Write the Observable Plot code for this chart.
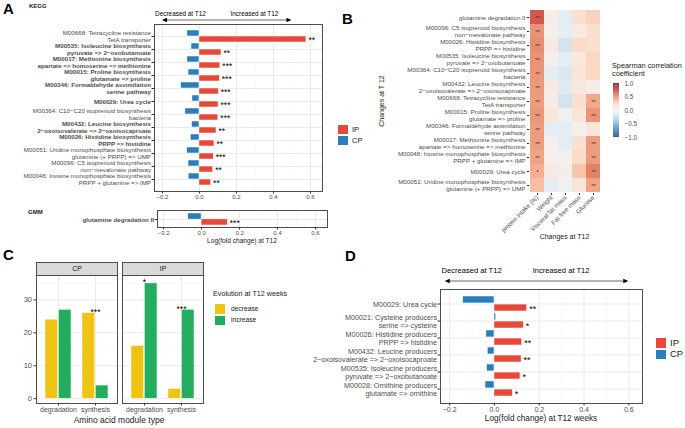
<!DOCTYPE html>
<html><head><meta charset="utf-8">
<script src="https://cdn.jsdelivr.net/npm/d3@7"></script>
<script src="https://cdn.jsdelivr.net/npm/@observablehq/plot@0.6"></script>
<style>
body{margin:0;background:#fff;}
#fig{position:relative;width:685px;height:428px;overflow:hidden;font-family:"Liberation Sans",Arial,sans-serif;background:#fff}
</style></head><body><div id="fig"></div>
<script>
// ---------------- DATA ----------------
const groups = ["IP", "CP"];
const groupColors = ["#E8483A", "#2C7DBB"];

// Panel A (KEGG)
const keggLabels = [
  "M00668: Tetracycline resistance\nTetA transporter",
  "M00535: Isoleucine biosynthesis\npyruvate => 2−oxobutanoate",
  "M00017: Methionine biosynthesis\napartate => homoserine => methionine",
  "M00015: Proline biosynthesis\nglutamate => proline",
  "M00346: Formaldehyde assimilation\nserine pathway",
  "M00029: Urea cycle",
  "M00364: C10−C20 isoprenoid biosynthesis\nbacteria",
  "M00432: Leucine biosynthesis\n2−oxoisovalerate => 2−oxoisocaproate",
  "M00026: Histidine biosynthesis\nPRPP => histidine",
  "M00051: Uridine monophosphate biosynthesis\nglutamine (+ PRPP) => UMP",
  "M00096: C5 isoprenoid biosynthesis\nnon−mevalonate pathway",
  "M00048: Inosine monophosphate biosynthesis\nPRPP + glutamine => IMP"
];
const keggBold = [false, true, true, true, true, true, false, true, true, false, false, false];
const keggIP = [0.578, 0.119, 0.113, 0.110, 0.104, 0.103, 0.102, 0.092, 0.081, 0.077, 0.074, 0.063];
const keggCP = [-0.065, -0.043, -0.065, -0.059, -0.099, -0.038, -0.076, -0.040, -0.047, -0.067, -0.059, -0.058];
const keggStars = ["**", "**", "***", "***", "***", "***", "***", "**", "**", "***", "**", "**"];

// Panel A (GMM)
const gmmLabels = ["glutamine degradation II"];
const gmmBold = [true];
const gmmIP = [0.138];
const gmmCP = [-0.070];
const gmmStars = ["***"];

// Panel B (heatmap)
const hmRows = [
  "glutamine degradation II",
  "M00096: C5 isoprenoid biosynthesis\nnon−mevalonate pathway",
  "M00026: Histidine biosynthesis\nPRPP => histidine",
  "M00535: Isoleucine biosynthesis\npyruvate => 2−oxobutanoate",
  "M00364: C10−C20 isoprenoid biosynthesis\nbacteria",
  "M00432: Leucine biosynthesis\n2−oxoisovalerate => 2−oxoisocaproate",
  "M00668: Tetracycline resistance\nTetA transporter",
  "M00015: Proline biosynthesis\nglutamate => proline",
  "M00346: Formaldehyde assimilation\nserine pathway",
  "M00017: Methionine biosynthesis\napartate => homoserine => methionine",
  "M00048: Inosine monophosphate biosynthesis\nPRPP + glutamine => IMP",
  "M00029: Urea cycle",
  "M00051: Uridine monophosphate biosynthesis\nglutamine (+ PRPP) => UMP"
];
const hmCols = ["protein intake (%)", "Weight", "Visceral fat mass", "Fat free mass", "Glucose"];
const rProtein  = [0.62, 0.45, 0.47, 0.45, 0.44, 0.43, 0.42, 0.44, 0.42, 0.42, 0.40, 0.36, 0.30];
const rWeight   = [0.05, 0.01, 0.08, 0.02, -0.10, 0.08, 0.06, 0.12, -0.10, 0.02, 0.03, 0.08, -0.10];
const rVisceral = [-0.10, -0.08, -0.18, -0.08, -0.15, -0.12, -0.18, -0.02, -0.10, -0.10, 0.00, 0.04, -0.02];
const rFatFree  = [0.15, 0.08, 0.18, 0.10, 0.12, 0.10, 0.15, 0.12, 0.03, 0.15, 0.18, 0.28, 0.12];
const rGlucose  = [0.22, 0.15, 0.15, 0.20, 0.20, 0.06, 0.38, 0.45, 0.12, 0.42, 0.42, 0.50, 0.40];
const sProtein  = ["**", "**", "**", "**", "**", "**", "**", "**", "**", "**", "**", "*", ""];
const sWeight   = ["", "", "", "", "", "", "", "", "", "", "", "", ""];
const sVisceral = ["", "", "", "", "", "", "", "", "", "", "", "", ""];
const sFatFree  = ["", "", "", "", "", "", "", "", "", "", "", "", ""];
const sGlucose  = ["", "", "", "", "", "", "**", "**", "", "**", "**", "**", "**"];
const cbTicks = [-1, -0.5, 0, 0.5, 1];

// Panel C
const cFacets = ["CP", "IP"];
const cTypes = ["degradation", "synthesis"];
const evolutions = ["decrease", "increase"];
const evoColors = ["#EEC311", "#24AD5F"];
const cpDecrease = [24, 26];
const cpIncrease = [27, 4];
const ipDecrease = [16, 3];
const ipIncrease = [35, 27];
const cpStars = ["", "***"];
const ipStars = ["*", "***"];

// Panel D
const dLabels = [
  "M00029: Urea cycle",
  "M00021: Cysteine producers\nserine => cysteine",
  "M00026: Histidine producers\nPRPP => histidine",
  "M00432: Leucine producers\n2−oxoisovalerate => 2−oxoisocaproate",
  "M00535: Isoleucine producers\npyruvate => 2−oxobutanoate",
  "M00028: Ornithine producers\nglutamate => ornithine"
];
const dBold = [false, false, false, false, false, false];
const dIP = [0.146, 0.131, 0.124, 0.121, 0.116, 0.082];
const dCP = [-0.140, 0.008, -0.036, -0.030, -0.033, -0.040];
const dStars = ["**", "*", "**", "**", "*", "*"];

const fcTicks = [-0.2, 0, 0.2, 0.4, 0.6];
const fcMinor = [-0.1, 0.1, 0.3, 0.5];

// ---------------- HELPERS ----------------
const FONT = "'Liberation Sans', Arial, sans-serif";
const fig = document.getElementById("fig");
function place(node, left, top) {
  node.style.position = "absolute";
  node.style.left = left + "px";
  node.style.top = top + "px";
  fig.appendChild(node);
  return node;
}
function txt(s, x, y, o = {}) {
  const d = document.createElement("div");
  d.textContent = s;
  const tx = o.tx ?? 0;
  d.style.cssText = `position:absolute;left:${x}px;top:${y}px;white-space:pre;line-height:${o.lh || 1.1};` +
    `font-size:${o.size || 7}px;font-weight:${o.weight || "normal"};color:${o.color || "#000"};` +
    `text-align:${o.align || "left"};transform:translate(${tx}%,-50%)${o.rotate ? ` rotate(${o.rotate}deg)` : ""};`;
  fig.appendChild(d);
  return d;
}
function swatch(x, y, w, h, color) {
  const d = document.createElement("div");
  d.style.cssText = `position:absolute;left:${x}px;top:${y}px;width:${w}px;height:${h}px;background:${color};box-sizing:border-box;border:0.5px solid #fff;`;
  fig.appendChild(d);
}

function divBars(o) {
  const {labels, bold, ip, cp, stars, width, height, mt, mb, ml, mr, po, domain, fontSize, tickFont, starSize, lh} = o;
  const pi = 0.1;
  const step = (height - mt - mb) / (labels.length - pi + 2 * po);
  const half = step * (1 - pi) / 2;
  const cpRows = labels.map((l, i) => ({label: l, group: "CP", v: cp[i]}));
  const ipRows = labels.map((l, i) => ({label: l, group: "IP", v: ip[i]}));
  const starRows = labels.map((l, i) => ({label: l, v: ip[i], s: stars[i]}));
  const boldL = labels.filter((l, i) => bold[i]);
  const normL = labels.filter((l, i) => !bold[i]);
  const marks = [
    Plot.gridX({ticks: fcMinor, stroke: "#f3f3f3", strokeOpacity: 1, strokeWidth: 0.6}),
    Plot.gridX({ticks: fcTicks, stroke: "#ebebeb", strokeOpacity: 1, strokeWidth: 1}),
    Plot.gridY({ticks: labels, stroke: "#ebebeb", strokeOpacity: 1, strokeWidth: 1}),
    Plot.barX(cpRows, {x: "v", y: "label", fill: "group", insetBottom: half, stroke: "white", strokeWidth: 0.5}),
    Plot.barX(ipRows, {x: "v", y: "label", fill: "group", insetTop: half, stroke: "white", strokeWidth: 0.5}),
    Plot.text(starRows, {x: "v", y: "label", text: "s", dx: 2, dy: half / 2 + 1, textAnchor: "start", fontSize: starSize, fill: "#000"}),
    Plot.frame({stroke: "#4d4d4d", strokeWidth: 1}),
    Plot.axisX({ticks: fcTicks, tickFormat: d3.format(".1f"), tickSize: 2.5, tickPadding: 1, fontSize: tickFont, label: null, stroke: "#333", fill: "#4d4d4d"})
  ];
  if (boldL.length) marks.push(Plot.axisY({ticks: boldL, fontWeight: "bold", tickSize: 2.5, tickPadding: 1, fontSize, lineHeight: lh, label: null, stroke: "#333", fill: "#4d4d4d"}));
  if (normL.length) marks.push(Plot.axisY({ticks: normL, tickSize: 2.5, tickPadding: 1, fontSize, lineHeight: lh, label: null, stroke: "#333", fill: "#4d4d4d"}));
  return Plot.plot({
    width, height, marginTop: mt, marginBottom: mb, marginLeft: ml, marginRight: mr,
    style: {fontFamily: FONT, fontSize: fontSize + "px", background: "transparent", overflow: "visible"},
    x: {domain, label: null},
    y: {domain: labels, paddingInner: pi, paddingOuter: po, label: null},
    color: {domain: groups, range: groupColors},
    marks
  });
}

// ---------------- PANEL A ----------------
const plotA = divBars({labels: keggLabels, bold: keggBold, ip: keggIP, cp: keggCP, stars: keggStars,
  width: 330, height: 205, mt: 24, mb: 14, ml: 154, mr: 8, po: 0.3, domain: [-0.243, 0.665],
  fontSize: 6.2, tickFont: 6, starSize: 8.5, lh: 1.02});
place(plotA, 0, 0);

const plotG = divBars({labels: gmmLabels, bold: gmmBold, ip: gmmIP, cp: gmmCP, stars: gmmStars,
  width: 335, height: 35, mt: 5, mb: 13, ml: 157, mr: 8, po: 0.2, domain: [-0.232, 0.663],
  fontSize: 6.2, tickFont: 6, starSize: 8.5, lh: 1.02});
place(plotG, 0, 205);

// ---------------- PANEL B ----------------
const hmVals = [rProtein, rWeight, rVisceral, rFatFree, rGlucose];
const hmStars = [sProtein, sWeight, sVisceral, sFatFree, sGlucose];
const hmCells = [];
hmRows.forEach((r, i) => hmCols.forEach((c, j) => hmCells.push({row: r, col: c, v: hmVals[j][i], s: hmStars[j][i]})));
const colorB = {type: "linear", scheme: "rdbu", domain: [-1, 1], reverse: true};
const plotB = Plot.plot({
  width: 270, height: 245, marginTop: 9, marginBottom: 52, marginLeft: 189, marginRight: 10,
  style: {fontFamily: FONT, fontSize: "6.2px", background: "transparent", overflow: "visible"},
  x: {domain: hmCols, padding: 0, label: null},
  y: {domain: hmRows, padding: 0, label: null},
  color: colorB,
  marks: [
    Plot.cell(hmCells, {x: "col", y: "row", fill: "v", inset: 0}),
    Plot.text(hmCells, {x: "col", y: "row", text: "s", fontSize: 5.5, fill: "#333", dy: 1}),
    Plot.axisX({tickRotate: -45, tickSize: 2, tickPadding: 1, fontSize: 6.3, label: null, stroke: "#333", fill: "#4d4d4d"}),
    Plot.axisY({tickSize: 2, tickPadding: 2, fontSize: 6.2, lineHeight: 1.02, label: null, stroke: "#333", fill: "#4d4d4d"})
  ]
});
place(plotB, 340, 0);

const cbSteps = d3.range(-1, 1, 0.02);
const plotCB = Plot.plot({
  width: 40, height: 62, marginTop: 4, marginBottom: 4, marginLeft: 3, marginRight: 31,
  style: {fontFamily: FONT, fontSize: "6.3px", background: "transparent", overflow: "visible"},
  y: {domain: [-1, 1], label: null},
  color: colorB,
  marks: [
    Plot.rect(cbSteps, {y1: d => d, y2: d => d + 0.021, fill: d => d + 0.01}),
    Plot.axisY({anchor: "right", ticks: cbTicks, tickFormat: d3.format(".1f"), tickSize: 0, tickPadding: 5, fontSize: 6.3, label: null, fill: "#4d4d4d"})
  ]
});
place(plotCB, 610, 79);

// ---------------- PANEL C ----------------
const cW = 210, cML = 35, cMR = 7;
const fpi = 0.06, xpi = 0.3, xpo = 0.22;
const facetW = (cW - cML - cMR) / (cFacets.length - fpi) * (1 - fpi);
const cHalf = facetW / (cTypes.length - xpi + 2 * xpo) * (1 - xpi) / 2;
const cVals = {CP: [cpDecrease, cpIncrease], IP: [ipDecrease, ipIncrease]};
const cStars = {CP: cpStars, IP: ipStars};
const cRows = [], cStarRows = [];
cFacets.forEach(f => cTypes.forEach((t, i) => {
  evolutions.forEach((e, k) => cRows.push({facet: f, type: t, evo: e, n: cVals[f][k][i]}));
  cStarRows.push({facet: f, type: t, n: Math.max(cVals[f][0][i], cVals[f][1][i]), s: cStars[f][i]});
}));
const fxOpt = {domain: cFacets, paddingInner: fpi, paddingOuter: 0, axis: null};
const plotStrip = Plot.plot({
  width: cW, height: 13, marginTop: 0, marginBottom: 0, marginLeft: cML, marginRight: cMR,
  style: {fontFamily: FONT, fontSize: "7px", background: "transparent", overflow: "visible"},
  fx: fxOpt,
  marks: [
    Plot.frame({fill: "#d9d9d9", stroke: "#4d4d4d", strokeWidth: 1}),
    Plot.text(cFacets, {fx: d => d, text: d => d, frameAnchor: "middle", fontSize: 7, fill: "#1a1a1a"})
  ]
});
place(plotStrip, 0, 262);

const plotC = Plot.plot({
  width: cW, height: 158, marginTop: 5, marginBottom: 25, marginLeft: cML, marginRight: cMR,
  style: {fontFamily: FONT, fontSize: "7px", background: "transparent", overflow: "visible"},
  fx: fxOpt,
  x: {domain: cTypes, paddingInner: xpi, paddingOuter: xpo, label: null},
  y: {domain: [-1.45, 37.4], label: null},
  color: {domain: evolutions, range: evoColors},
  marks: [
    Plot.gridY({ticks: [5, 15, 25, 35], stroke: "#f3f3f3", strokeOpacity: 1, strokeWidth: 0.6}),
    Plot.gridY({ticks: [0, 10, 20, 30], stroke: "#ebebeb", strokeOpacity: 1}),
    Plot.gridX({stroke: "#ebebeb", strokeOpacity: 1}),
    Plot.barY(cRows.filter(d => d.evo === "decrease"), {fx: "facet", x: "type", y: "n", fill: "evo", insetRight: cHalf, stroke: "white", strokeWidth: 0.5}),
    Plot.barY(cRows.filter(d => d.evo === "increase"), {fx: "facet", x: "type", y: "n", fill: "evo", insetLeft: cHalf, stroke: "white", strokeWidth: 0.5}),
    Plot.text(cStarRows, {fx: "facet", x: "type", y: "n", text: "s", lineAnchor: "bottom", dy: 2, fontSize: 8.5, fill: "#000"}),
    Plot.frame({stroke: "#4d4d4d", strokeWidth: 1}),
    Plot.axisY({ticks: [0, 10, 20, 30], tickSize: 2.5, tickPadding: 2, fontSize: 7.5, label: null, stroke: "#333", fill: "#4d4d4d"}),
    Plot.axisX({tickSize: 2.5, tickPadding: 1.5, fontSize: 7, label: null, stroke: "#333", fill: "#4d4d4d"})
  ]
});
place(plotC, 0, 270);

// ---------------- PANEL D ----------------
const plotD = divBars({labels: dLabels, bold: dBold, ip: dIP, cp: dCP, stars: dStars,
  width: 345, height: 143, mt: 4, mb: 25, ml: 100, mr: 43, po: 0.235, domain: [-0.241, 0.661],
  fontSize: 7.2, tickFont: 7, starSize: 9, lh: 1.15});
place(plotD, 340, 285);

// ---------------- TEXT, LEGENDS, ARROWS ----------------
txt("A", 3, 9, {size: 15, weight: "bold"});
txt("B", 342, 19, {size: 15, weight: "bold"});
txt("C", 3, 255, {size: 15, weight: "bold"});
txt("D", 345, 256, {size: 15, weight: "bold"});
txt("KEGG", 29, 6, {size: 6, weight: "bold", color: "#1a1a1a"});
txt("GMM", 28, 212, {size: 6, weight: "bold", color: "#1a1a1a"});

const sxA = plotA.scale("x"), sxD = plotD.scale("x");
txt("Decreased at T12", sxA.apply(-0.1), 13.5, {size: 6.4, tx: -50});
txt("Increased at T12", sxA.apply(0.3), 13.5, {size: 6.4, tx: -50});
txt("Decreased at T12", 340 + sxD.apply(-0.1), 271, {size: 7.6, tx: -50});
txt("Increased at T12", 340 + sxD.apply(0.3), 271, {size: 7.6, tx: -50});

txt("Log(fold change) at T12", (157 + 327) / 2, 241, {size: 6.6, tx: -50, color: "#1a1a1a"});
txt("Log(fold change) at T12 weeks", 340 + (100 + 302) / 2, 419, {size: 8.2, tx: -50, color: "#1a1a1a"});
txt("Amino acid module type", (35 + 203) / 2, 421, {size: 8.5, tx: -50, color: "#1a1a1a"});
txt("Changes at T 12", 382, 101, {size: 7, tx: -50, rotate: -90, color: "#1a1a1a"});
txt("Changes at T12", 564.5, 237, {size: 7, tx: -50, color: "#1a1a1a"});

// legend A
groups.forEach((g, i) => {
  swatch(337, 124 + i * 11, 11.5, 11, groupColors[i]);
  txt(g, 352, 129.5 + i * 11, {size: 7.5, color: "#1a1a1a"});
});
// legend D
groups.forEach((g, i) => {
  swatch(655, 337 + i * 11.5, 12, 11.5, groupColors[i]);
  txt(g, 670, 342.7 + i * 11.5, {size: 9.5, color: "#1a1a1a"});
});
// legend B
txt("Spearman correlation\ncoefficient", 612, 70.5, {size: 7.3, lh: 1.2, color: "#1a1a1a"});
// legend C
txt("Evolution at T12 weeks", 213, 294, {size: 7.2, color: "#1a1a1a"});
evolutions.forEach((e, i) => {
  swatch(214, 303 + i * 11.5, 12, 11.5, evoColors[i]);
  txt(e, 231, 308.7 + i * 11.5, {size: 6.7, color: "#1a1a1a"});
});

// arrows
const NS = "http://www.w3.org/2000/svg";
const ov = document.createElementNS(NS, "svg");
ov.setAttribute("width", 685); ov.setAttribute("height", 428);
ov.style.cssText = "position:absolute;left:0;top:0;pointer-events:none";
fig.appendChild(ov);
function dblArrow(x1, x2, y) {
  const l = document.createElementNS(NS, "line");
  l.setAttribute("x1", x1 + 3); l.setAttribute("x2", x2 - 3);
  l.setAttribute("y1", y); l.setAttribute("y2", y);
  l.setAttribute("stroke", "#000"); l.setAttribute("stroke-width", 0.6);
  ov.appendChild(l);
  [[x1, 1], [x2, -1]].forEach(([x, s]) => {
    const p = document.createElementNS(NS, "polygon");
    p.setAttribute("points", `${x},${y} ${x + s * 5},${y - 2.2} ${x + s * 5},${y + 2.2}`);
    p.setAttribute("fill", "#000");
    ov.appendChild(p);
  });
}
dblArrow(sxA.apply(-0.2), sxA.apply(0.5), 20);
dblArrow(340 + sxD.apply(-0.22), 340 + sxD.apply(0.6), 281);
</script></body></html>
